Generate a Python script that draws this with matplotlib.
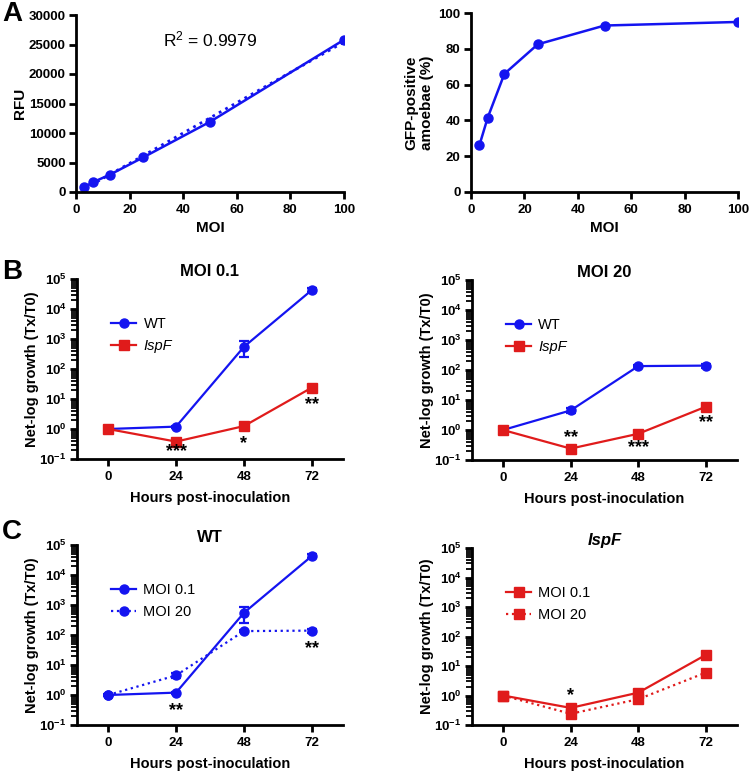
import matplotlib.pyplot as plt
from matplotlib.lines import Line2D
from matplotlib.ticker import LogLocator, NullFormatter
import numpy as np

plt.rcParams['font.family'] = ['Liberation Sans', 'DejaVu Sans']
plt.rcParams['mathtext.fontset'] = 'custom'
plt.rcParams['mathtext.rm'] = 'Liberation Sans'
plt.rcParams['mathtext.bf'] = 'Liberation Sans:bold'
plt.rcParams['mathtext.it'] = 'Liberation Sans:italic'

BLUE = '#1414f0'
RED = '#e01b1b'

# panel A data
moi = [3.125, 6.25, 12.5, 25, 50, 100]
rfu = [800, 1650, 2900, 5850, 11900, 25800]
gfp_pct = [26, 41.5, 66, 82.5, 93, 95]

# panels B/C data
hours = [0, 24, 48, 72]
wt_01 = [1.0, 1.2, 550, 43000]
wt_01_lo = [0.0, 0.1, 305, 7000]
wt_01_hi = [0.0, 0.1, 330, 9000]
ispf_01 = [1.0, 0.38, 1.25, 24]
ispf_01_err = [0.05, 0.04, 0.15, 6]
wt_20 = [1.0, 4.5, 135, 140]
wt_20_err = [0.05, 0.8, 12, 22]
ispf_20 = [1.0, 0.24, 0.75, 6.0]
ispf_20_err = [0.05, 0.03, 0.08, 1.0]

W, H = 750, 772
fig = plt.figure(figsize=(W / 100, H / 100), dpi=100)


def add_ax(left, right, top, bottom):
    return fig.add_axes([left / W, 1 - bottom / H, (right - left) / W, (bottom - top) / H])


def style(ax):
    for s in ['top', 'right']:
        ax.spines[s].set_visible(False)
    for s in ['left', 'bottom']:
        ax.spines[s].set_linewidth(2)
    ax.tick_params(which='major', width=2, length=5, labelsize=9.5)
    ax.tick_params(which='minor', width=1.3, length=4)
    ax.tick_params(axis='y', which='major', pad=2.5)
    for lab in ax.get_xticklabels() + ax.get_yticklabels():
        lab.set_fontweight('bold')


def log_panel(ax):
    ax.set_yscale('log')
    ax.set_ylim(0.1, 1e5)
    ax.set_xlim(-11, 83)
    ax.set_xticks(hours)
    ax.set_xticklabels([str(h) for h in hours])
    ax.set_yticks([10.0 ** k for k in range(-1, 6)])
    ax.set_yticklabels([r'$\mathbf{10^{%d}}$' % k for k in range(-1, 6)])
    ax.yaxis.set_minor_locator(LogLocator(base=10, subs=np.arange(2, 10), numticks=50))
    ax.yaxis.set_minor_formatter(NullFormatter())
    style(ax)
    ax.set_xlabel('Hours post-inoculation', fontsize=10.5, fontweight='bold', labelpad=6)
    ax.set_ylabel('Net-log growth (Tx/T0)', fontsize=10.5, fontweight='bold', labelpad=0)


def series(ax, y, err, color, marker, ls):
    ax.errorbar(hours, y, yerr=err, color=color, marker=marker, ms=6.5, lw=1.6,
                ls=ls, capsize=3.5, elinewidth=1.6, capthick=1.6)
    return Line2D([], [], color=color, marker=marker, ms=6.5, lw=1.6, ls=ls)


def legend(ax, handles, labels, italic=None):
    leg = ax.legend(handles, labels, loc='upper left', bbox_to_anchor=(0.08, 0.86),
                    frameon=False, fontsize=10.5, handlelength=1.7, handletextpad=0.5,
                    labelspacing=0.55)
    if italic is not None:
        leg.get_texts()[italic].set_fontstyle('italic')


def stars(ax, pts):
    for x, y, s in pts:
        ax.text(x, y, s, ha='center', va='center', fontsize=13, fontweight='bold')


# ---- A left
ax = add_ax(76, 344, 15, 192)
ax.errorbar(moi, rfu, yerr=[150] * 6, color=BLUE, marker='o', ms=6.5, lw=1.8,
            capsize=2, elinewidth=1.5)
slope, icpt = np.polyfit(moi, rfu, 1)
xf = np.array([moi[0], moi[-1]])
ax.plot(xf, slope * xf + icpt, color=BLUE, ls=':', lw=2)
ax.set_xlim(0, 100)
ax.set_ylim(0, 30000)
ax.set_xticks(range(0, 101, 20))
ax.set_yticks(range(0, 30001, 5000))
style(ax)
ax.set_xlabel('MOI', fontsize=11, fontweight='bold')
ax.set_ylabel('RFU', fontsize=11, fontweight='bold', labelpad=1)
ax.text(0.5, 0.86, r'R$^2$ = 0.9979', transform=ax.transAxes, ha='center',
        va='center', fontsize=12.5)
fig.text(2 / W, 1 - 14 / H, 'A', fontsize=20, fontweight='bold', va='center')

# ---- A right
ax = add_ax(471, 738, 13, 192)
ax.plot(moi, gfp_pct, color=BLUE, marker='o', ms=6.5, lw=1.8)
ax.set_xlim(0, 100)
ax.set_ylim(0, 100)
ax.set_xticks(range(0, 101, 20))
ax.set_yticks(range(0, 101, 20))
style(ax)
ax.set_xlabel('MOI', fontsize=11, fontweight='bold')
ax.set_ylabel('GFP-positive\namoebae (%)', fontsize=11, fontweight='bold', labelpad=3)

# ---- B left
ax = add_ax(77, 343, 279, 459)
h1 = series(ax, wt_01, [wt_01_lo, wt_01_hi], BLUE, 'o', '-')
h2 = series(ax, ispf_01, ispf_01_err, RED, 's', '-')
log_panel(ax)
ax.set_title('MOI 0.1', fontsize=12, fontweight='bold', pad=-2)
stars(ax, [(24, 0.17, '***'), (48, 0.33, '*'), (72, 6.5, '**')])
legend(ax, [h1, h2], ['WT', 'IspF'], italic=1)
fig.text(2 / W, 1 - 272 / H, 'B', fontsize=20, fontweight='bold', va='center')

# ---- B right
ax = add_ax(472, 737, 280, 460)
h1 = series(ax, wt_20, wt_20_err, BLUE, 'o', '-')
h2 = series(ax, ispf_20, ispf_20_err, RED, 's', '-')
log_panel(ax)
ax.set_title('MOI 20', fontsize=12, fontweight='bold', pad=-2)
stars(ax, [(24, 0.55, '**'), (48, 0.26, '***'), (72, 1.8, '**')])
legend(ax, [h1, h2], ['WT', 'IspF'], italic=1)

# ---- C left
ax = add_ax(77, 343, 545, 725)
h1 = series(ax, wt_01, [wt_01_lo, wt_01_hi], BLUE, 'o', '-')
h2 = series(ax, wt_20, wt_20_err, BLUE, 'o', ':')
log_panel(ax)
ax.set_title('WT', fontsize=12, fontweight='bold', pad=-2)
stars(ax, [(24, 0.3, '**'), (72, 36, '**')])
legend(ax, [h1, h2], ['MOI 0.1', 'MOI 20'])
fig.text(2 / W, 1 - 532 / H, 'C', fontsize=20, fontweight='bold', va='center')

# ---- C right
ax = add_ax(472, 737, 548, 725)
h1 = series(ax, ispf_01, ispf_01_err, RED, 's', '-')
h2 = series(ax, ispf_20, ispf_20_err, RED, 's', ':')
log_panel(ax)
ax.set_title('IspF', fontsize=12, fontweight='bold', fontstyle='italic', pad=-2)
stars(ax, [(24, 1.0, '*')])
legend(ax, [h1, h2], ['MOI 0.1', 'MOI 20'])

fig.savefig('out.png', dpi=100)
